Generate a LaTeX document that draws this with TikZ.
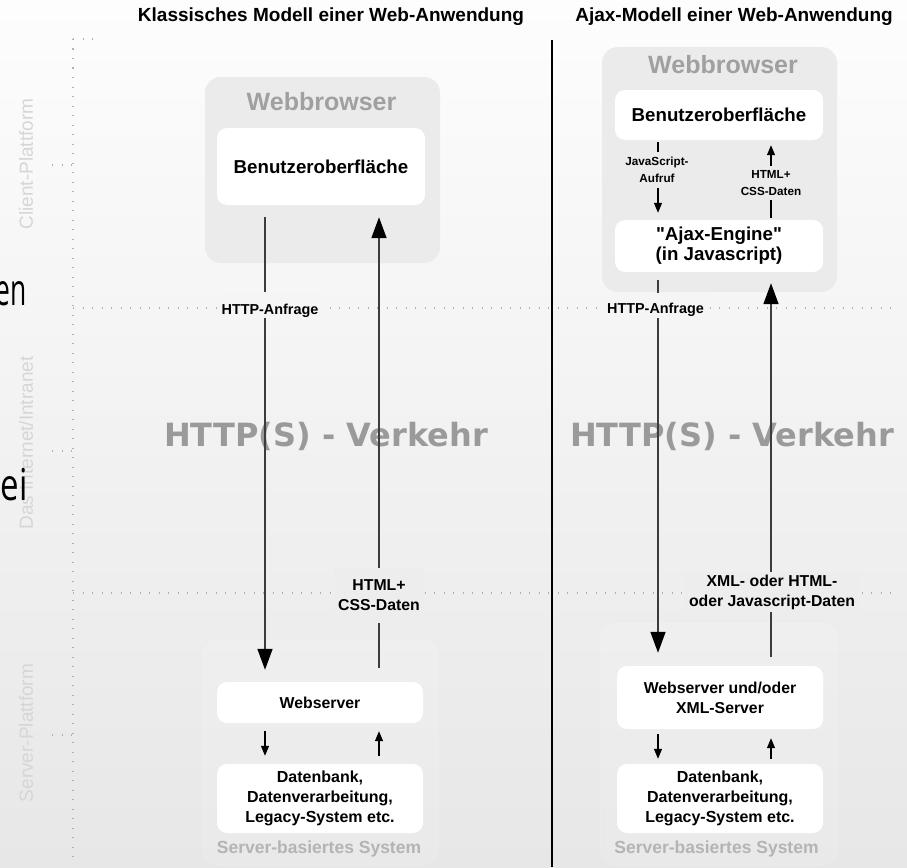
\documentclass[tikz,border=0pt]{standalone}
\usepackage{fontspec}
\setmainfont{Liberation Sans}[Ligatures=TeXOff]
\newfontfamily\dvsans{DejaVu Sans}
\newfontfamily\osans{Open Sans}
\usetikzlibrary{arrows.meta}
\newcommand\fsz[2]{\fontsize{#1}{#2}\selectfont}
\definecolor{bgtop}{HTML}{FDFDFD}
\definecolor{bgbot}{HTML}{E7E7E7}
\definecolor{boxgray}{HTML}{EBEBEB}
\definecolor{ttlgray}{HTML}{A0A0A0}
\definecolor{vgray}{HTML}{9A9A9A}
\definecolor{sidegray}{HTML}{D6D6D6}
\definecolor{srvtxt}{HTML}{B4B4B4}
\definecolor{dotgray}{HTML}{B0B0B0}
\definecolor{linegray}{HTML}{3C3C3C}
\colorlet{bgA}{bgbot!36!bgtop}
\colorlet{bgB}{bgbot!71!bgtop}
\begin{document}
\begin{tikzpicture}[x=1pt,y=-1pt,
  brbox/.style={fill=boxgray, rounded corners=16pt, inner sep=0pt},
  srvbox/.style={fill=white, fill opacity=0.12, draw=white, draw opacity=0.15, line width=1pt, rounded corners=16pt, inner sep=0pt},
  wbox/.style={fill=white, rounded corners=10pt, inner sep=0pt, align=center, font=\bfseries\fsz{16}{20}},
  brtitle/.style={font=\bfseries\fsz{25}{28}, text=ttlgray, inner sep=0pt},
  srvtitle/.style={font=\bfseries\fsz{17.5}{20}, text=srvtxt, inner sep=0pt},
  title/.style={font=\bfseries\fsz{19}{22}, inner sep=0pt},
  verkehr/.style={font=\dvsans\bfseries\fsz{32}{36}, text=vgray, inner sep=0pt},
  sidelab/.style={font=\fsz{19}{22}, text=sidegray, rotate=90, inner sep=0pt},
  artifact/.style={font=\osans\fsz{44}{48}, anchor=base east, inner sep=0pt},
  lab/.style={font=\bfseries\fsz{14.4}{16}, inner xsep=4pt, inner ysep=0pt},
  labtwo/.style={font=\bfseries\fsz{15.8}{20}, align=center, inner xsep=4pt},
  labsmall/.style={font=\bfseries\fsz{11.7}{16.5}, align=center, inner xsep=3pt},
  bigarrow/.style={draw=linegray, line width=1.6pt, -{Triangle[length=21pt,width=15pt,color=black]}},
  smallarrow/.style={draw=black, line width=1.2pt, -{Triangle[length=10pt,width=8pt]}},
  dotline/.style={draw=dotgray, line width=1.3pt, dash pattern=on 1.3pt off 8.2pt}
]
\useasboundingbox (0,0) rectangle (907,867);
\shade[top color=bgtop, bottom color=bgbot] (0,0) rectangle (907,867);

% dotted grid
\draw[dotline] (73,39) -- (73,862);
\draw[dotline] (73,39) -- (97,39);
\draw[dotline] (73,308) -- (893,308);
\draw[dotline] (73,593) -- (893,593);
\foreach \yy in {165,451,735} \draw[dotline] (52,\yy) -- (73,\yy);

% side labels
\node[sidelab] (sClient) at (26,164) {Client-Plattform};
\node[sidelab] (sNet) at (26,443) {Das Internet/Intranet};
\node[sidelab] (sServer) at (26,733) {Server-Plattform};

% stray text fragments at the left edge (cut off in the reference too)
\node[artifact] (fragA) at (27,305) {\scalebox{0.6}[1]{en}};
\node[artifact] (fragB) at (28,500) {\scalebox{0.75}[1]{ei}};

% titles
\node[title] (tL) at (331,17) {Klassisches Modell einer Web-Anwendung};
\node[title] (tR) at (734,17) {Ajax-Modell einer Web-Anwendung};

% divider
\coordinate (divTop) at (552,40);
\coordinate (divBot) at (552,867);
\draw[line width=2.2pt] (divTop) -- (divBot);

% big background text
\node[verkehr] (vL) at (326,436) {HTTP(S) - Verkehr};
\node[verkehr] (vR) at (732,436) {HTTP(S) - Verkehr};

% ---------- left: classic model ----------
\node[brbox, minimum width=235pt, minimum height=186pt] (brL) at (322.5,170) {};
\node[brtitle] (brLt) at (321.5,102) {Webbrowser};
\node[wbox, font=\bfseries\fsz{18.7}{20}, minimum width=208pt, minimum height=77pt] (buL) at (321,166.5) {Benutzeroberfläche};

\node[srvbox, minimum width=235pt, minimum height=225pt] (srvL) at (320.5,752.5) {};
\node[wbox, font=\bfseries\fsz{15.8}{20}, minimum width=206pt, minimum height=41pt] (wsL) at (320,702.5) {Webserver};
\node[wbox, minimum width=206pt, minimum height=69pt] (dbL) at (320,798.5) {Datenbank,\\Datenverarbeitung,\\Legacy-System etc.};
\node[srvtitle] (srvLt) at (319,849) {Server-basiertes System};

% ---------- right: Ajax model ----------
\node[brbox, minimum width=235pt, minimum height=245pt] (brR) at (719.5,169.5) {};
\node[brtitle] (brRt) at (723,65) {Webbrowser};
\node[wbox, font=\bfseries\fsz{18.7}{20}, minimum width=208pt, minimum height=50pt] (buR) at (719,115) {Benutzeroberfläche};
\node[wbox, font=\bfseries\fsz{18.7}{20}, minimum width=208pt, minimum height=52pt] (ajR) at (719,246) {"Ajax-Engine"\\(in Javascript)};

\node[srvbox, minimum width=237pt, minimum height=242pt] (srvR) at (718.5,744) {};
\node[wbox, font=\bfseries\fsz{15.8}{20}, minimum width=206pt, minimum height=63pt] (wsR) at (720,697.5) {Webserver und/oder\\XML-Server};
\node[wbox, minimum width=206pt, minimum height=69pt] (dbR) at (720,798.5) {Datenbank,\\Datenverarbeitung,\\Legacy-System etc.};
\node[srvtitle] (srvRt) at (716.5,849) {Server-basiertes System};

% columns of the connectors
\coordinate (cLa) at (265,0);
\coordinate (cLb) at (379,0);
\coordinate (cRa) at (658,0);
\coordinate (cRb) at (771,0);

% ---------- connectors ----------
\draw[bigarrow, shorten <=12pt, shorten >=12pt] (buL.south -| cLa) -- (wsL.north -| cLa);
\draw[bigarrow, shorten <=14pt, shorten >=12pt] (wsL.north -| cLb) -- (buL.south -| cLb);
\draw[smallarrow, shorten <=8pt, shorten >=8pt] (wsL.south -| cLa) -- (dbL.north -| cLa);
\draw[smallarrow, shorten <=8pt, shorten >=8pt] (dbL.north -| cLb) -- (wsL.south -| cLb);

\draw[bigarrow, shorten <=8pt, shorten >=13pt] (ajR.south -| cRa) -- (wsR.north -| cRa);
\draw[bigarrow, shorten <=9pt, shorten >=11pt] (wsR.north -| cRb) -- (ajR.south -| cRb);
\draw[smallarrow, shorten <=2pt, shorten >=7pt] (buR.south -| cRa) -- (ajR.north -| cRa);
\draw[smallarrow, shorten <=2pt, shorten >=5pt] (ajR.north -| cRb) -- (buR.south -| cRb);
\draw[smallarrow, shorten <=5pt, shorten >=5pt] (wsR.south -| cRa) -- (dbR.north -| cRa);
\draw[smallarrow, shorten <=5pt, shorten >=9pt] (dbR.north -| cRb) -- (wsR.south -| cRb);

% ---------- connector labels ----------
\node[lab, fill=bgA, anchor=base, text height=22pt, text depth=4pt] (httpL) at (270,314) {HTTP-Anfrage};
\node[labtwo, fill=bgB, inner ysep=12pt] (htmlL) at (379,595.5) {HTML+\\CSS-Daten};
\node[lab, fill=bgA, anchor=base, text height=20.5pt, text depth=4.5pt] (httpR) at (655.5,313.5) {HTTP-Anfrage};
\node[labtwo, fill=bgB, inner ysep=3pt] (xmlR) at (772,592) {XML- oder HTML-\\oder Javascript-Daten};
\node[labsmall, fill=boxgray, inner ysep=5.5pt] (jsR) at (657,170) {JavaScript-\\Aufruf};
\node[labsmall, fill=boxgray, inner ysep=5pt] (htR) at (771,183) {HTML+\\CSS-Daten};
\end{tikzpicture}
\end{document}
